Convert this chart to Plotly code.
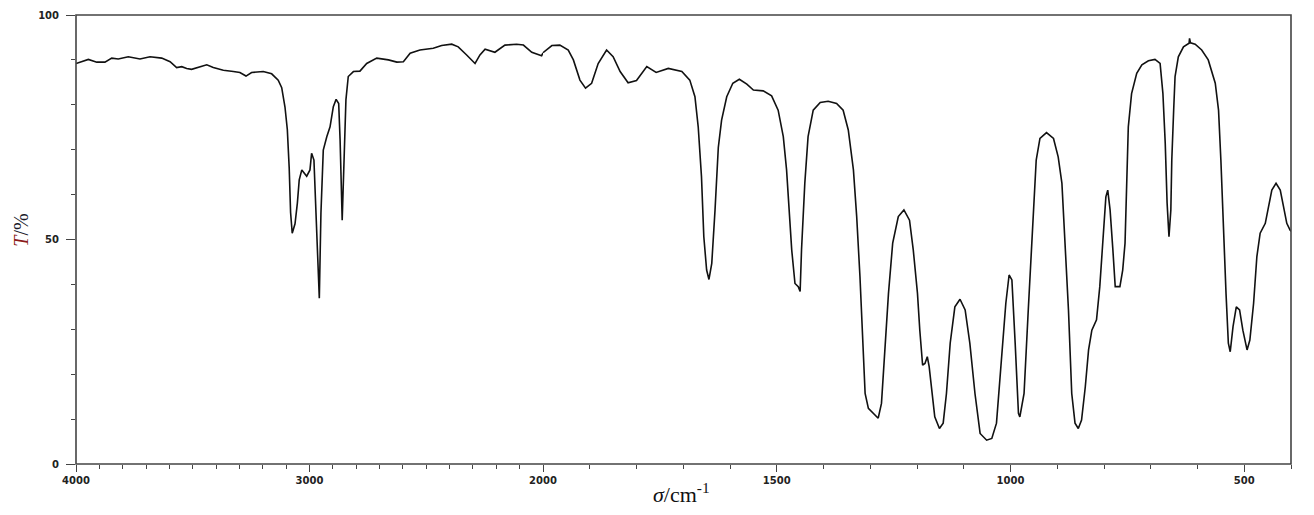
import numpy as np
import plotly.graph_objects as go

# Wavenumbers (cm^-1) and transmittance (%)
wavenumber = [
    4000, 3947, 3911, 3876, 3847, 3819, 3776, 3726, 3683, 3633, 3597, 3569, 3547, 3526,
    3505, 3476, 3440, 3412, 3369, 3326, 3298, 3272, 3248, 3198, 3162, 3134, 3119, 3105,
    3095, 3087, 3081, 3074, 3062, 3052, 3044, 3033, 3012, 2998, 2991, 2981, 2976, 2962,
    2958, 2951, 2941, 2926, 2912, 2898, 2886, 2875, 2869, 2860, 2852, 2844, 2834, 2812,
    2784, 2755, 2712, 2662, 2626, 2598, 2569, 2527, 2470, 2434, 2391, 2363, 2327, 2291,
    2270, 2248, 2206, 2163, 2113, 2084, 2048, 2006, 2000,
    1981, 1964, 1946, 1935, 1921, 1909, 1896, 1882, 1864, 1850, 1835, 1818, 1800, 1778,
    1758, 1732, 1703, 1686, 1675, 1668, 1661, 1656, 1650, 1645, 1639, 1632, 1625, 1618,
    1607, 1594, 1580, 1564, 1550, 1529, 1511, 1497, 1486, 1479, 1473, 1468, 1461, 1454,
    1450, 1447, 1440, 1433, 1422, 1407, 1390, 1372, 1358, 1347, 1336, 1329, 1322, 1316,
    1311, 1304, 1293, 1283, 1276, 1268, 1261, 1252, 1240, 1228, 1216, 1208, 1199, 1194,
    1188, 1183, 1178, 1174, 1169, 1162, 1152, 1144, 1137, 1129, 1119, 1108, 1097, 1087,
    1076, 1065, 1051, 1040, 1030, 1019, 1010, 1003, 997, 990, 983, 980, 971, 962,
    953, 945, 937, 923, 908, 898, 890, 883, 876, 869, 862, 855, 848, 840,
    833, 826, 816, 809, 802, 796, 792, 787, 781, 776, 766, 760, 755, 751,
    748, 741, 730, 719, 705, 691, 680, 674, 669, 665, 661, 657, 655, 651,
    648, 641, 630, 618, 617, 615, 605, 591, 577, 562, 555, 550, 545, 539,
    534, 530, 524, 517, 510, 503, 494, 488, 480, 473, 466, 455, 448, 441,
    432, 423, 416, 409, 402, 400,
]
transmittance = [
    89.2, 90.1, 89.5, 89.5, 90.4, 90.2, 90.7, 90.2, 90.7, 90.4, 89.6, 88.3, 88.5, 88.1,
    87.9, 88.3, 88.9, 88.3, 87.7, 87.4, 87.2, 86.4, 87.2, 87.4, 86.9, 85.5, 83.8, 79.5,
    74.5, 66.0, 56.0, 51.4, 53.5, 58.1, 63.3, 65.5, 64.1, 65.5, 69.2, 67.7, 60.3, 42.5,
    36.9, 55.9, 69.9, 72.9, 75.1, 79.6, 81.2, 80.3, 72.2, 54.3, 67.7, 81.1, 86.3, 87.4,
    87.5, 89.2, 90.4, 90.0, 89.5, 89.6, 91.5, 92.2, 92.6, 93.2, 93.5, 92.9, 91.1, 89.2,
    91.1, 92.4, 91.7, 93.3, 93.5, 93.3, 91.7, 90.9, 91.6,
    93.2, 93.3, 92.2, 90.0, 85.5, 83.7, 84.8, 89.2, 92.2, 90.7, 87.4, 84.9, 85.4, 88.5,
    87.2, 88.1, 87.4, 85.5, 81.8, 75.1, 64.0, 50.6, 43.2, 41.1, 44.7, 56.6, 70.5, 76.6,
    81.8, 84.8, 85.7, 84.6, 83.3, 83.1, 82.0, 78.8, 72.9, 65.5, 56.6, 47.7, 40.2, 39.5,
    38.4, 47.7, 62.5, 72.9, 78.8, 80.5, 80.8, 80.3, 78.8, 74.4, 65.5, 55.1, 41.7, 26.9,
    15.7, 12.4, 11.3, 10.2, 13.5, 26.9, 38.0, 49.2, 55.1, 56.6, 54.3, 47.7, 38.0, 29.8,
    22.0, 22.4, 23.9, 21.7, 17.2, 10.5, 7.9, 9.1, 15.7, 26.9, 35.0, 36.7, 34.3, 26.9,
    15.7, 6.8, 5.3, 5.7, 9.1, 23.2, 35.8, 42.1, 41.0, 26.9, 11.3, 10.5, 15.7, 34.3,
    52.9, 67.7, 72.5, 73.8, 72.5, 68.4, 62.5, 49.2, 34.3, 15.7, 9.1, 7.9, 9.8, 17.2,
    25.4, 29.8, 32.1, 39.5, 50.6, 59.5, 61.0, 56.6, 47.7, 39.5, 39.5, 43.2, 49.2, 64.0,
    75.1, 82.5, 87.0, 88.9, 89.8, 90.1, 89.2, 82.5, 71.4, 58.1, 50.6, 56.6, 67.7, 78.8,
    86.3, 90.7, 92.9, 93.7, 94.8, 93.8, 93.5, 92.2, 90.0, 84.8, 78.8, 67.7, 52.9, 38.0,
    26.9, 25.0, 30.6, 35.0, 34.3, 29.8, 25.4, 27.6, 35.8, 46.2, 51.4, 53.6, 57.3, 61.0,
    62.5, 61.0, 57.3, 53.6, 52.1, 51.8,
]

high_ticks = [4000, 3000, 2000]
high_labels = ["4000", "3000", "2000"]
high_unlabelled_ticks = [3500, 2500]
low_ticks = [1500, 1000, 500]
low_labels = ["1500", "1000", "500"]
y_ticks = [0, 50, 100]
y_labels = ["0", "50", "100"]

wn = np.array(wavenumber, dtype=float)
tr = np.array(transmittance, dtype=float)
hi = wn >= 2000
lo = wn <= 2000

W, H = 1314, 515
left, right, top, bottom = 76, 23, 15, 51
plot_w = W - left - right
split = 467 / plot_w  # 4000-2000 drawn at half the scale of 2000-400

line_style = dict(color="#111111", width=1.6)

fig = go.Figure()
fig.add_trace(go.Scatter(x=wn[hi], y=tr[hi], mode="lines", line=line_style,
                         xaxis="x", yaxis="y", showlegend=False, hoverinfo="skip"))
fig.add_trace(go.Scatter(x=wn[lo], y=tr[lo], mode="lines", line=line_style,
                         xaxis="x2", yaxis="y", showlegend=False, hoverinfo="skip"))

tickfont = dict(family="DejaVu Sans", size=10, color="#222222", weight="bold")
minor_common = dict(ticks="outside", ticklen=4, tickcolor="#444444", tickwidth=1.2, showgrid=False)
axis_common = dict(showgrid=False, zeroline=False, showline=False, automargin=False,
                   ticks="outside", tickwidth=1.2, tickcolor="#444444", tickfont=tickfont,
                   fixedrange=True)

fig.update_layout(
    template="none",
    width=W, height=H,
    margin=dict(l=left, r=right, t=top, b=bottom, autoexpand=False),
    paper_bgcolor="white", plot_bgcolor="white",
    xaxis=dict(domain=[0, split], range=[4000, 2000], anchor="y",
               tickvals=high_ticks, ticktext=high_labels, ticklen=7,
               minor=dict(dtick=100, tick0=0, **minor_common), **axis_common),
    xaxis3=dict(domain=[0, split], range=[4000, 2000], anchor="y", overlaying="x",
                tickvals=high_unlabelled_ticks, showticklabels=False, ticklen=7,
                **axis_common),
    xaxis2=dict(domain=[split, 1], range=[2000, 400], anchor="y",
                tickvals=low_ticks, ticktext=low_labels, ticklen=7,
                minor=dict(dtick=100, tick0=0, **minor_common), **axis_common),
    yaxis=dict(range=[0, 100], anchor="x", tickvals=y_ticks, ticktext=y_labels,
               ticklen=9, ticklabelstandoff=5,
               minor=dict(dtick=10, tick0=0, **minor_common), **axis_common),
    shapes=[dict(type="rect", xref="paper", yref="paper", x0=0, x1=1, y0=0, y1=1,
                 line=dict(color="#444444", width=1.6), layer="above")],
    annotations=[
        dict(text="<span style='color:#8B1A1A'><i>T</i></span>/%",
             xref="paper", yref="paper", x=-0.046, y=0.52, textangle=-90,
             showarrow=False, xanchor="center", yanchor="middle",
             font=dict(family="Liberation Serif", size=20, color="#1a1a2a")),
        dict(text="<i>σ</i>/cm<sup>-1</sup>",
             xref="paper", yref="paper", x=0.498, y=-0.064,
             showarrow=False, xanchor="center", yanchor="middle",
             font=dict(family="Liberation Serif", size=22, color="#111111")),
    ],
)

fig.write_html("out.html", config={"displayModeBar": False},
               post_script="document.body.style.margin='0';document.body.style.overflow='hidden';")
